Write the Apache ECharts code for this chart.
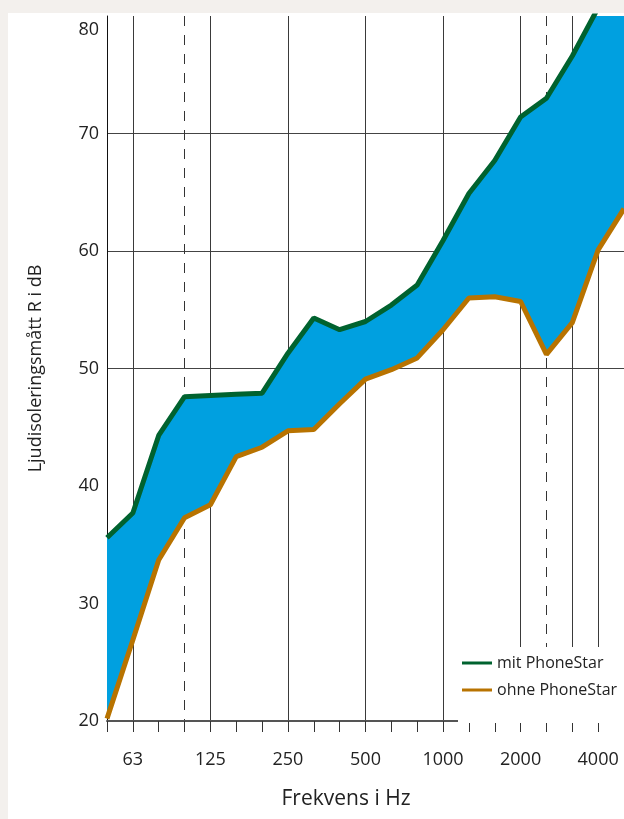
<!DOCTYPE html>
<html>
<head>
<meta charset="utf-8">
<script src="https://cdn.jsdelivr.net/npm/echarts@6/dist/echarts.min.js"></script>
<style>
  html, body { margin: 0; padding: 0; background: #f3f0ed; }
  #panel { position: absolute; left: 8px; top: 13px; width: 616px; height: 806px; background: #ffffff; }
  #chart { position: absolute; left: 0; top: 0; width: 624px; height: 819px; }
</style>
</head>
<body>
<div id="panel"></div>
<div id="chart"></div>
<script>
// terzband-frekvenser (Hz)
const freqs = ['50', '63', '80', '100', '125', '160', '200', '250', '315', '400', '500',
  '630', '800', '1000', '1250', '1600', '2000', '2500', '3150', '4000', '5000']

// R i dB
const mitPhoneStar = [35.6, 37.7, 44.3, 47.6, 47.7, 47.8, 47.9, 51.3, 54.3, 53.3, 54.0,
  55.4, 57.1, 60.9, 64.9, 67.7, 71.4, 73.0, 76.6, 80.7, 84.0]
const ohnePhoneStar = [20.2, 26.9, 33.7, 37.3, 38.4, 42.5, 43.3, 44.7, 44.8, 47.0, 49.1,
  49.9, 50.9, 53.3, 56.0, 56.1, 55.7, 51.2, 53.9, 60.1, 63.6]

const labelFreqs = ['63', '125', '250', '500', '1000', '2000', '4000']
const solidGridFreqs = ['63', '125', '250', '500', '1000', '2000', '3150', '4000']
const dashedGridFreqs = ['100', '2500']
const gridDb = [50, 60, 70]

const yMin = 20, yMax = 80, yStep = 10
const font = 'Open Sans'

// skillnaden mellan kurvorna, fylls blått
const diff = mitPhoneStar.map((v, i) => +(v - ohnePhoneStar[i]).toFixed(2))

// färg per horisontell stödlinje (bara 50/60/70 syns)
const yLineColors = []
for (let v = yMin; v <= yMax; v += yStep) {
  yLineColors.push(gridDb.includes(v) ? '#444' : 'rgba(0,0,0,0)')
}

const chart = echarts.init(document.getElementById('chart'))

chart.setOption({
  animation: false,
  backgroundColor: 'transparent',
  textStyle: { fontFamily: font },
  grid: { left: 107, right: 0, top: 16, bottom: 98 },

  legend: {
    data: ['mit PhoneStar', 'ohne PhoneStar'],
    orient: 'vertical',
    left: 458,
    top: 647,
    padding: [7, 40, 24, 4],
    itemGap: 9,
    itemWidth: 30,
    itemHeight: 3,
    icon: 'rect',
    backgroundColor: '#ffffff',
    textStyle: { fontFamily: font, fontSize: 16, lineHeight: 18, color: '#222' },
  },

  xAxis: [
    {
      type: 'category',
      data: freqs,
      boundaryGap: false,
      name: 'Frekvens i Hz',
      nameLocation: 'middle',
      nameGap: 68,
      nameTextStyle: { fontFamily: font, fontSize: 21, color: '#222', padding: [0, 39, 0, 0] },
      axisLine: { lineStyle: { color: '#555', width: 2 } },
      axisTick: { interval: 0, length: 11, lineStyle: { color: '#333' } },
      axisLabel: {
        interval: (i, v) => labelFreqs.includes(v),
        margin: 30,
        fontFamily: font,
        fontSize: 18,
        color: '#222',
      },
      splitLine: {
        show: true,
        interval: (i, v) => solidGridFreqs.includes(v),
        lineStyle: { color: '#3a3a3a', width: 1 },
      },
    },
    {
      // bara de streckade linjerna
      type: 'category',
      data: freqs,
      boundaryGap: false,
      position: 'top',
      axisLine: { show: false },
      axisTick: { show: false },
      axisLabel: { show: false },
      splitLine: {
        show: true,
        interval: (i, v) => dashedGridFreqs.includes(v),
        lineStyle: { color: '#333', width: 1, type: [10, 9] },
      },
    },
  ],

  yAxis: {
    type: 'value',
    min: yMin,
    max: yMax,
    interval: yStep,
    name: 'Ljudisoleringsmått R i dB',
    nameLocation: 'middle',
    nameGap: 62,
    nameTextStyle: { fontFamily: font, fontSize: 18, color: '#222' },
    axisLine: { show: true, lineStyle: { color: '#111', width: 1 } },
    axisTick: { show: false },
    axisLabel: {
      margin: 8,
      fontFamily: font,
      fontSize: 18,
      color: '#222',
      // översta etiketten sitter under axelns topp
      formatter: v => (v === yMax ? '{top|' + v + '}' : String(v)),
      rich: { top: { fontFamily: font, fontSize: 18, color: '#222', padding: [28, 0, 0, 0] } },
    },
    splitLine: { show: true, lineStyle: { color: yLineColors, width: 1 } },
  },

  series: [
    {
      name: 'bas',
      type: 'line',
      stack: 'band',
      data: ohnePhoneStar,
      symbol: 'none',
      silent: true,
      lineStyle: { width: 0, opacity: 0 },
      z: 2,
    },
    {
      name: 'fyllning',
      type: 'line',
      stack: 'band',
      data: diff,
      symbol: 'none',
      silent: true,
      lineStyle: { width: 0, opacity: 0 },
      areaStyle: { color: '#00a0e0', opacity: 1 },
      z: 2,
    },
    {
      name: 'mit PhoneStar',
      type: 'line',
      data: mitPhoneStar,
      symbol: 'none',
      color: '#00622f',
      lineStyle: { color: '#00622f', width: 5 },
      z: 3,
    },
    {
      name: 'ohne PhoneStar',
      type: 'line',
      data: ohnePhoneStar,
      symbol: 'none',
      color: '#b87300',
      lineStyle: { color: '#b87300', width: 5 },
      z: 3,
    },
  ],
})
</script>
</body>
</html>
